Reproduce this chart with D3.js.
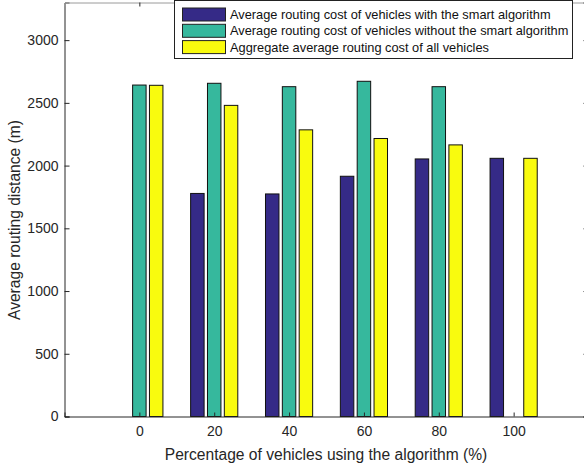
<!DOCTYPE html>
<html>
<head>
<meta charset="utf-8">
<script src="https://cdn.jsdelivr.net/npm/d3@7"></script>
<style>
html,body{margin:0;padding:0;background:#fff;}
svg{display:block;font-family:"Liberation Sans",Arial,Helvetica,sans-serif;}
</style>
</head>
<body>
<svg id="chart" width="584" height="467"></svg>
<script>
const categories = [0, 20, 40, 60, 80, 100];
const withSmart = [0, 1778, 1774, 1915, 2053, 2058];
const withoutSmart = [2642, 2656, 2629, 2672, 2629, 0];
const aggregate = [2640, 2480, 2285, 2216, 2165, 2058];
const seriesNames = [
  "Average routing cost of vehicles with the smart algorithm",
  "Average routing cost of vehicles without the smart algorithm",
  "Aggregate average routing cost of all vehicles"
];
const seriesColors = ["#352a87", "#36b89d", "#f9fb0e"];
const yTicks = [0, 500, 1000, 1500, 2000, 2500, 3000];
const xTicks = [0, 20, 40, 60, 80, 100];

(function () {
const series = [withSmart, withoutSmart, aggregate];
const offsets = [-4.5, 0, 4.5];
const barW = 3.6;

const svg = d3.select("#chart");
const mLeft = 64.5, mRight = 588.5, mTop = 2.5, mBottom = 416.5;
const x = d3.scaleLinear().domain([-20, 120]).range([mLeft, mRight]);
const y = d3.scaleLinear().domain([0, 3300]).range([mBottom, mTop]);
const axisColor = "#262626";

// bars
series.forEach((vals, si) => {
  svg.append("g").selectAll("rect").data(vals).enter().append("rect")
    .attr("x", (d, i) => x(categories[i] + offsets[si] - barW / 2))
    .attr("width", x(barW) - x(0))
    .attr("y", d => y(d))
    .attr("height", d => y(0) - y(d))
    .attr("fill", seriesColors[si])
    .attr("stroke", "#111")
    .attr("stroke-width", 1);
});

// axes
const gl = svg.append("g").attr("transform", `translate(${mLeft},0)`)
  .call(d3.axisLeft(y).tickValues(yTicks).tickSize(-5).tickPadding(6).tickFormat(d3.format("d")));
const gb = svg.append("g").attr("transform", `translate(0,${mBottom})`)
  .call(d3.axisBottom(x).tickValues(xTicks).tickSize(-4).tickPadding(10).tickFormat(d3.format("d")));
const gt = svg.append("g").attr("transform", `translate(0,${mTop})`)
  .call(d3.axisTop(x).tickValues(xTicks).tickSize(-4).tickFormat(""));
const gr = svg.append("g").attr("transform", `translate(${mRight},0)`)
  .call(d3.axisRight(y).tickValues(yTicks).tickSize(-5).tickFormat(""));
[gl, gb, gt, gr].forEach(g => {
  g.selectAll("path").attr("stroke", axisColor).attr("stroke-width", 1);
  g.selectAll("line").attr("stroke", axisColor);
  g.selectAll("text").attr("fill", axisColor).style("font-size", "14px")
    .style("font-family", "'Liberation Sans',Arial,sans-serif");
});
gt.selectAll("path").attr("stroke", "#9a9a9a");

// axis labels
svg.append("text").attr("x", 326).attr("y", 460)
  .attr("text-anchor", "middle").attr("fill", axisColor).style("font-size", "15.6px")
  .text("Percentage of vehicles using the algorithm (%)");
svg.append("text").attr("transform", "translate(20,220) rotate(-90)")
  .attr("text-anchor", "middle").attr("fill", axisColor).style("font-size", "15.6px")
  .text("Average routing distance (m)");

// legend
const lg = svg.append("g");
lg.append("rect").attr("x", 174.5).attr("y", 0.5).attr("width", 398).attr("height", 58)
  .attr("fill", "#fff").attr("stroke", "#222").attr("stroke-width", 1);
seriesNames.forEach((name, i) => {
  const cy = 14.5 + i * 16.3;
  lg.append("rect").attr("x", 182.5).attr("y", cy - 6.5).attr("width", 43).attr("height", 13)
    .attr("fill", seriesColors[i]).attr("stroke", "#222").attr("stroke-width", 1);
  lg.append("text").attr("x", 230).attr("y", cy + 4.5).attr("fill", "#111")
    .style("font-size", "12.8px").text(name);
});
})();
</script>
</body>
</html>
